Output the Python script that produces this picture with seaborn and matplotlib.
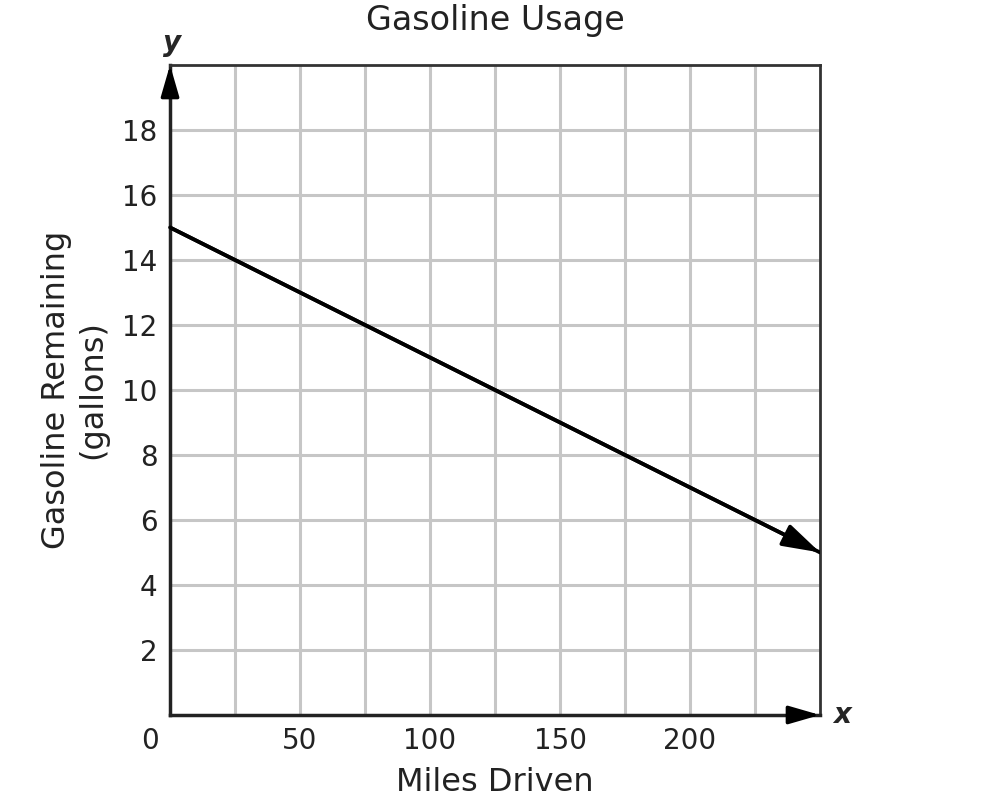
import matplotlib
matplotlib.use("Agg")
import matplotlib.pyplot as plt
import matplotlib.transforms as mtransforms
import seaborn as sns
import pandas as pd

# data
miles = [0, 250]
gallons = [15, 5]
x_ticks = [50, 100, 150, 200]
y_ticks = [2, 4, 6, 8, 10, 12, 14, 16, 18]

sns.set_style("white")
plt.rcParams['font.family'] = ['DejaVu Sans']

df = pd.DataFrame({'Miles Driven': miles, 'Gasoline Remaining': gallons})

fig = plt.figure(figsize=(10.02, 8.10), dpi=100)
ax = fig.add_axes([0.1697, 0.1173, 0.6487, 0.8025])

# grid
for gx in range(25, 250, 25):
    ax.axvline(gx, color='#c6c6c6', lw=2.2, zorder=0)
for gy in range(2, 20, 2):
    ax.axhline(gy, color='#c6c6c6', lw=2.2, zorder=0)

sns.lineplot(data=df, x='Miles Driven', y='Gasoline Remaining', ax=ax,
             color='black', lw=2.7, zorder=3)
ax.annotate('', xy=(miles[-1], gallons[-1]), xytext=(miles[0], gallons[0]),
            arrowprops=dict(arrowstyle='-|>,head_length=2.3,head_width=0.7',
                            color='black', lw=2.7, shrinkA=0, shrinkB=0),
            zorder=4)

ax.set_xlim(0, 250)
ax.set_ylim(0, 20)
ax.set_xticks(x_ticks)
ax.set_yticks(y_ticks)
ax.tick_params(length=0, labelsize=20, pad=9, colors='#222222')

for side in ['top', 'right']:
    ax.spines[side].set_color('#333333')
    ax.spines[side].set_linewidth(2)
for side in ['left', 'bottom']:
    ax.spines[side].set_color('#222222')
    ax.spines[side].set_linewidth(2.5)

# axis arrows
ax.annotate('', xy=(0, 1.0), xytext=(0, 0.95), xycoords='axes fraction',
            arrowprops=dict(arrowstyle='-|>,head_length=1.9,head_width=0.55',
                            color='black', lw=2.5, shrinkA=0, shrinkB=0))
ax.annotate('', xy=(1.0, 0), xytext=(0.95, 0), xycoords='axes fraction',
            arrowprops=dict(arrowstyle='-|>,head_length=1.9,head_width=0.55',
                            color='black', lw=2.5, shrinkA=0, shrinkB=0))
ax.text(0.003, 1.012, 'y', transform=ax.transAxes, ha='center', va='bottom',
        fontsize=20, fontstyle='italic', fontweight='bold')
ax.text(1.02, 0.0, 'x', transform=ax.transAxes, ha='left', va='center',
        fontsize=20, fontstyle='italic', fontweight='bold')
zero_tr = ax.transAxes + mtransforms.ScaledTranslation(0, -9 / 72, fig.dpi_scale_trans)
ax.text(-0.031, 0.0, '0', transform=zero_tr, ha='center', va='top',
        fontsize=20, color='#222222')

ax.set_xlabel('Miles Driven', fontsize=23, color='#222222', labelpad=8)
ax.set_ylabel('Gasoline Remaining\n(gallons)', fontsize=23, color='#222222',
              labelpad=10, linespacing=1.2)
ax.set_title('Gasoline Usage', fontsize=24, color='#222222', pad=25)

fig.savefig('out.png', dpi=100)
